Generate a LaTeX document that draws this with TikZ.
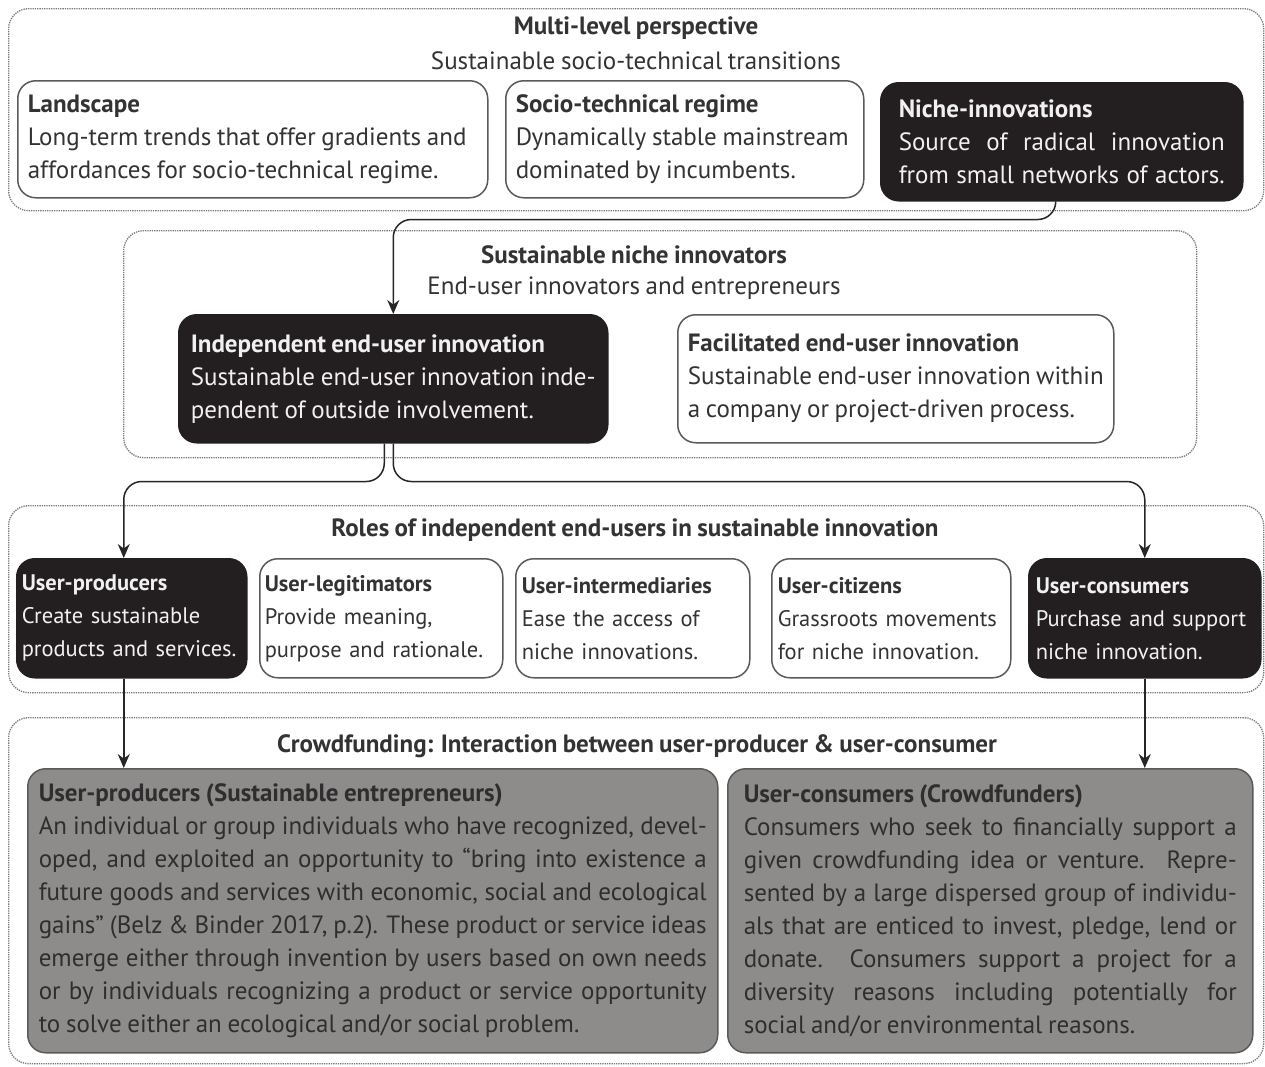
\documentclass[tikz,border=0pt]{standalone}
\usepackage{fontspec}
\setmainfont{PT Sans}[WordSpace=0.85]
\usetikzlibrary{arrows.meta, positioning, calc}
\definecolor{boxDark}{HTML}{231F20}
\definecolor{boxGrey}{HTML}{8E8C8B}
\definecolor{lineGrey}{HTML}{5A5A5A}
\definecolor{txtGrey}{HTML}{333333}
\definecolor{dotGrey}{HTML}{7A7A7A}

\begin{document}
\begin{tikzpicture}[x=1pt, y=-1pt,
  frame/.style={draw=dotGrey, densely dotted, line width=1.3pt,
    rounded corners=20pt, anchor=north west, inner sep=0pt},
  lvltitle/.style={font=\fontsize{25}{33}\selectfont\bfseries,
    text=txtGrey, inner sep=0pt},
  lvlsub/.style={font=\fontsize{25}{33}\selectfont, text=txtGrey,
    inner sep=0pt},
  card/.style={rounded corners=18pt, line width=1.5pt, align=justify,
    anchor=north west, inner xsep=10pt, inner ysep=0pt,
    font={\fontsize{25}{33}\selectfont\tolerance=9999\hyphenpenalty=10000}},
  rolecard/.style={align=left, inner xsep=7pt, minimum height=119pt,
    font={\fontsize{22.5}{33}\selectfont\hyphenpenalty=10000}},
  lightcard/.style={card, draw=lineGrey, fill=white, text=txtGrey},
  darkcard/.style={card, draw=boxDark, fill=boxDark, text=white!94!black},
  greycard/.style={card, draw=lineGrey, fill=boxGrey, text=black!82},
  link/.style={draw=black!85, line width=1.5pt, rounded corners=18pt,
    -{Stealth[length=14pt, width=12pt]}}
]
  \fill[white] (0,0) rectangle (1265,1066);
  \useasboundingbox (0,0) rectangle (1265,1066);

  % Dotted level frames
  \node[frame, minimum width=1255pt, minimum height=202pt] (mlpframe) at (8,8) {};
  \node[frame, minimum width=1073pt, minimum height=227pt] (nicheframe) at (123,230) {};
  \node[frame, minimum width=1255pt, minimum height=187pt] (roleframe) at (8,505) {};
  \node[frame, minimum width=1255pt, minimum height=346pt] (crowdframe) at (8,717) {};

  % Multi-level perspective
  \node[lvltitle] (mlptitle) at (636,28) {Multi-level perspective};
  \node[lvlsub] (mlpsub) at (636,61) {Sustainable socio-technical transitions};
  \node[lightcard, text width=450pt, minimum height=117pt] (landscape) at (17,80)
    {\textbf{Landscape}\\ Long-term trends that offer gradients and\\
     affordances for socio-technical regime.};
  \node[lightcard, text width=338pt, minimum height=117pt] (regime) at (505,80)
    {\textbf{Socio-technical regime}\\ Dynamically stable mainstream\\
     dominated by incumbents.};
  \node[darkcard, text width=326pt, inner xsep=18pt, minimum height=118pt] (niche) at (880,82)
    {\textbf{Niche-innovations}\\
     \makebox[\linewidth][s]{Source of radical innovation}\\
     \makebox[\linewidth][s]{from small networks of actors.}};

  % Sustainable niche innovators
  \node[lvltitle] (nichetitle) at (634,255) {Sustainable niche innovators};
  \node[lvlsub] (nichesub) at (634,288) {End-user innovators and entrepreneurs};
  \node[darkcard, text width=405pt, inner xsep=12pt, minimum height=128pt] (indep) at (178,314)
    {\textbf{Independent end-user innovation}\\ Sustainable end-user innovation inde-\\
     pendent of outside involvement.};
  \node[lightcard, text width=416pt, minimum height=128pt] (facil) at (677,314)
    {\textbf{Facilitated end-user innovation}\\ Sustainable end-user innovation within\\
     a company or project-driven process.};

  % Roles of independent end-users
  \node[lvltitle] (roletitle) at (635,530)
    {Roles of independent end-users in sustainable innovation};
  \node[darkcard, rolecard, text width=220pt, inner xsep=5pt] (prod) at (16,558)
    {\textbf{User-producers}\\ Create sustainable\\ products and services.};
  \node[lightcard, rolecard, text width=233pt, inner xsep=5pt] (legit) at (259,558)
    {\textbf{User-legitimators}\\ Provide meaning,\\ purpose and rationale.};
  \node[lightcard, rolecard, text width=222pt, inner xsep=6pt] (interm) at (515,558)
    {\textbf{User-intermediaries}\\ Ease the access of\\ niche innovations.};
  \node[lightcard, rolecard, text width=227pt, inner xsep=6pt] (citizen) at (771,558)
    {\textbf{User-citizens}\\ Grassroots movements\\ for niche innovation.};
  \node[darkcard, rolecard, text width=218pt, inner xsep=7pt] (consum) at (1028,558)
    {\textbf{User-consumers}\\ Purchase and support\\ niche innovation.};

  % Crowdfunding
  \node[lvltitle] (crowdtitle) at (637,746)
    {Crowdfunding: Interaction between user-producer \& user-consumer};
  \node[greycard, text width=668pt, inner xsep=11pt, minimum height=284pt] (producers) at (27,768)
    {\textbf{User-producers (Sustainable entrepreneurs)}\\
     An individual or group individuals who have recognized, devel-\linebreak
     oped, and exploited an opportunity to “bring into existence a\linebreak
     future goods and services with economic, social and ecological\linebreak
     gains” (Belz \& Binder 2017, p.2). These product or service ideas\linebreak
     emerge either through invention by users based on own needs\linebreak
     or by individuals recognizing a product or service opportunity\linebreak
     to solve either an ecological and/or social problem.};
  \node[greycard, text width=493pt, inner xsep=16pt, minimum height=284pt] (consumers) at (727,768)
    {\textbf{User-consumers (Crowdfunders)}\\
     Consumers who seek to financially support a\linebreak
     given crowdfunding idea or venture. Repre-\linebreak
     sented by a large dispersed group of individu-\linebreak
     als that are enticed to invest, pledge, lend or\linebreak
     donate. Consumers support a project for a\linebreak
     diversity reasons including potentially for\linebreak
     social and/or environmental reasons.};

  % Connectors
  \coordinate (nicheout) at ($(niche.south)+(-6,0)$);
  \coordinate (indepleft) at ($(indep.south)+(-9,0)$);
  \coordinate (prodin) at ($(prod.north)+(-8,0)$);
  \coordinate (prodout) at ($(prod.south)+(-8,0)$);
  \draw[link] (nicheout) -- ++(0,18) -| (indep.north);
  \draw[link] (indepleft) -- ++(0,38) -| (prodin);
  \draw[link] (indep.south) -- ++(0,38) -| (consum.north);
  \draw[link] (prodout) -- (prodout |- producers.north);
  \draw[link] (consum.south) -- (consum.south |- consumers.north);
\end{tikzpicture}
\end{document}
